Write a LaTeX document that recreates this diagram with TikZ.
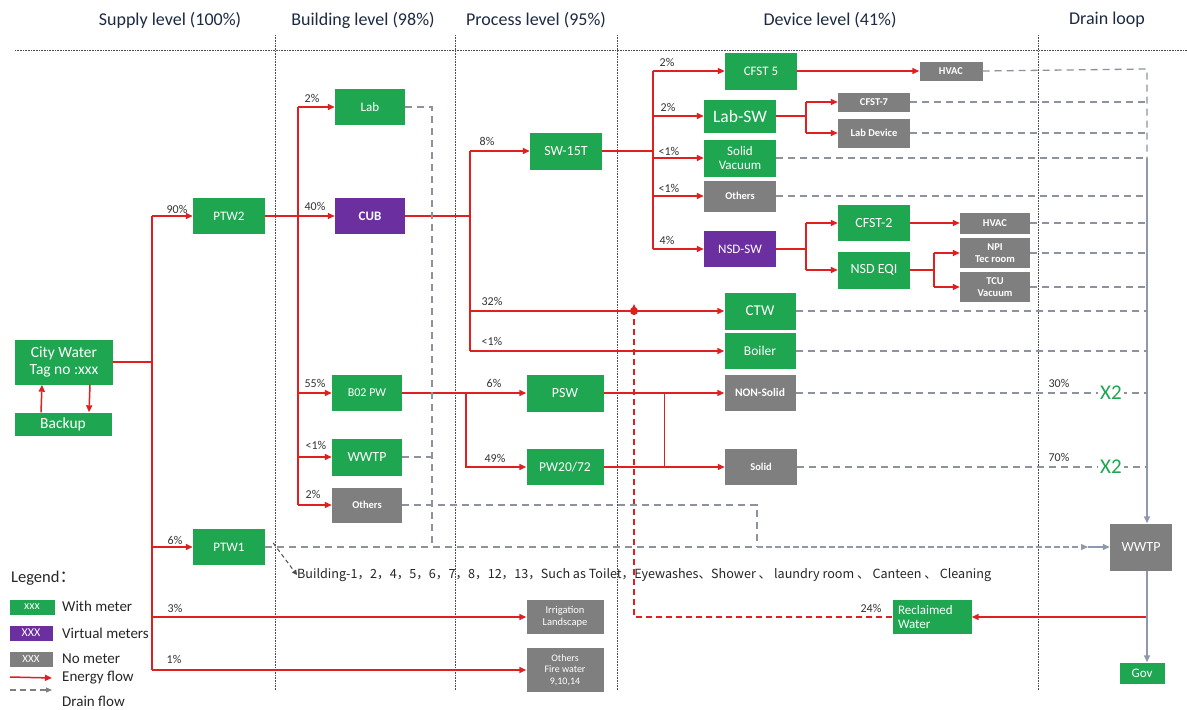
\documentclass[tikz,border=0pt]{standalone}
\usepackage{fontspec}
\setmainfont{Carlito}
\newfontfamily\cjk{Noto Sans CJK SC}
\usetikzlibrary{arrows.meta}
\definecolor{gr}{HTML}{1EA650}
\definecolor{pu}{HTML}{6B2FA0}
\definecolor{gy}{HTML}{7F7F7F}
\definecolor{rd}{HTML}{E02020}
\definecolor{dr}{HTML}{8E99AE}
\definecolor{dg}{HTML}{8C929E}
\definecolor{hd}{HTML}{1C2A45}
\begin{document}
\begin{tikzpicture}[x=1pt,y=-1pt,
 box/.style={draw=none,inner sep=1pt,align=center,text=white,font=\fontsize{13}{14}\selectfont},
 gbox/.style={box,fill=gr},
 pbox/.style={box,fill=pu},
 ybox/.style={box,fill=gy},
 sm/.style={font=\fontsize{10.5}{12}\selectfont\bfseries},
 sz/.style 2 args={minimum width=#1pt,minimum height=#2pt},
 flow/.style={draw=rd,line width=1.5pt},
 fa/.style={flow,-{Triangle[length=7pt,width=6pt]}},
 drain/.style={draw=dg,line width=1.3pt,dash pattern=on 7pt off 5pt},
 dsolid/.style={draw=dr,line width=1.5pt},
 pct/.style={font=\fontsize{12}{13}\selectfont,text=black!80,inner sep=0pt},
 sep/.style={draw=black!70,densely dotted,line width=0.6pt},
 hdr/.style={font=\fontsize{18}{20}\selectfont,text=hd},
 lg/.style={font=\fontsize{15}{17}\selectfont,text=black!85,anchor=west,inner sep=0pt}]
\useasboundingbox[fill=white] (0,0) rectangle (1187,710);

% headers and separators
\node[hdr] (h1) at (170,20) {Supply level (100\%)};
\node[hdr] (h2) at (363,20) {Building level (98\%)};
\node[hdr] (h3) at (536,20) {Process level (95\%)};
\node[hdr] (h4) at (830,20) {Device level (41\%)};
\node[hdr] (h5) at (1107,20) {Drain loop};
\draw[sep] (15,50) -- (1187,50);
\draw[sep] (275,35) -- (275,690);
\draw[sep] (455,35) -- (455,690);
\draw[sep] (617,35) -- (617,690);
\draw[sep] (1038,35) -- (1038,690);

% supply level
\node[gbox,sz={98}{45},font=\fontsize{15.5}{17}\selectfont] (city) at (64,362) {City Water\\Tag no :xxx};
\node[gbox,sz={97}{23},font=\fontsize{15.5}{17}\selectfont] (backup) at (63,424) {Backup};
\node[gbox,sz={72}{36}] (ptw2) at (229,216) {PTW2};
\node[gbox,sz={72}{36}] (ptw1) at (229,547) {PTW1};
\node[ybox,sz={77}{34},font=\fontsize{10.5}{12}\selectfont] (irr) at (565,617) {Irrigation\\Landscape};
\node[ybox,sz={77}{44},font=\fontsize{10}{11.5}\selectfont] (fire) at (565,670) {Others\\Fire water\\9,10,14};

% building level
\node[gbox,sz={70}{36}] (lab) at (370,107) {Lab};
\node[pbox,sz={70}{36},font=\fontsize{13}{14}\selectfont\bfseries] (cub) at (370,216) {CUB};
\node[gbox,sz={70}{36},font=\fontsize{12}{13}\selectfont] (b02) at (367,393) {B02 PW};
\node[gbox,sz={70}{37},font=\fontsize{14}{15}\selectfont] (wwtpa) at (367,457) {WWTP};
\node[ybox,sz={70}{35},sm] (otha) at (367,505) {Others};

% process level
\node[gbox,sz={72}{37},font=\fontsize{14}{15}\selectfont] (sw) at (566,151) {SW-15T};
\node[gbox,sz={77}{37},font=\fontsize{14}{15}\selectfont] (psw) at (565,393) {PSW};
\node[gbox,sz={77}{36},font=\fontsize{13.5}{15}\selectfont] (pw) at (565,467) {PW20/72};

% device level
\node[gbox,sz={72}{37}] (cfst5) at (761,71) {CFST 5};
\node[gbox,sz={72}{33},font=\fontsize{17.5}{19}\selectfont] (labsw) at (740,116) {Lab-SW};
\node[gbox,sz={72}{37},font=\fontsize{13}{14}\selectfont] (svac) at (740,158) {Solid\\Vacuum};
\node[ybox,sz={72}{31},sm] (othb) at (740,196) {Others};
\node[pbox,sz={72}{36}] (nsdsw) at (740,249) {NSD-SW};
\node[ybox,sz={63}{19},sm] (hvaca) at (951,71) {HVAC};
\node[ybox,sz={72}{19},sm] (cfst7) at (874,102) {CFST-7};
\node[ybox,sz={72}{29},sm] (labdev) at (874,133) {Lab Device};
\node[gbox,sz={72}{36},font=\fontsize{14}{15}\selectfont] (cfst2) at (874,223) {CFST-2};
\node[gbox,sz={72}{37},font=\fontsize{14}{15}\selectfont] (nsdeqi) at (874,270) {NSD EQI};
\node[ybox,sz={70}{21},sm] (hvacb) at (995,223) {HVAC};
\node[ybox,sz={70}{30},sm] (npi) at (995,253) {NPI\\Tec room};
\node[ybox,sz={70}{30},sm] (tcu) at (995,287) {TCU\\Vacuum};
\node[gbox,sz={71}{37},font=\fontsize{15}{16}\selectfont] (ctw) at (760,311) {CTW};
\node[gbox,sz={71}{36},font=\fontsize{13.5}{15}\selectfont] (boiler) at (760,351) {Boiler};
\node[ybox,sz={71}{36},font=\fontsize{11.5}{13}\selectfont\bfseries] (nons) at (760,393) {NON-Solid};
\node[ybox,sz={72}{36},sm] (solid) at (761,467) {Solid};
\node[gbox,sz={79}{34},align=left,text width=68pt,font=\fontsize{13}{14}\selectfont] (recl) at (932,617) {Reclaimed\\Water};

% drain loop
\node[ybox,sz={62}{47},font=\fontsize{14}{15}\selectfont] (wwtpb) at (1141,547) {WWTP};
\node[gbox,sz={45}{21}] (gov) at (1142,673) {Gov};

% ---------- energy flows ----------
\draw[fa] ([xshift=-22pt]backup.north) -- ([xshift=-22pt]city.south);
\draw[fa] ([xshift=26pt]city.south) -- ([xshift=26pt]backup.north);

\coordinate (j1) at (152,362);
\draw[flow] (city.east) -- (j1);
\draw[flow] (ptw2.west -| j1) -- (fire.west -| j1);
\draw[fa] (ptw2.west -| j1) -- (ptw2.west);
\draw[fa] (ptw1.west -| j1) -- (ptw1.west);
\draw[fa] (irr.west -| j1) -- (irr.west);
\draw[fa] (fire.west -| j1) -- (fire.west);
\node[pct] (p90) at (177,209) {90\%};
\node[pct] (p6a) at (175,540) {6\%};
\node[pct] (p3) at (175,608) {3\%};
\node[pct] (p1) at (174,659) {1\%};

\coordinate (j2) at (298,216);
\draw[flow] (ptw2.east) -- (j2);
\draw[flow] (lab.west -| j2) -- (otha.west -| j2);
\draw[fa] (lab.west -| j2) -- (lab.west);
\draw[fa] (cub.west -| j2) -- (cub.west);
\draw[fa] (b02.west -| j2) -- (b02.west);
\draw[fa] (wwtpa.west -| j2) -- (wwtpa.west);
\draw[fa] (otha.west -| j2) -- (otha.west);
\node[pct] (p2a) at (312,98) {2\%};
\node[pct] (p40) at (315,206) {40\%};
\node[pct] (p55) at (315,383) {55\%};
\node[pct] (p1a) at (316,445) {<1\%};
\node[pct] (p2b) at (313,494) {2\%};

\coordinate (j3) at (470,216);
\draw[flow] (cub.east) -- (j3);
\draw[flow] (sw.west -| j3) -- (boiler.west -| j3);
\draw[fa] (sw.west -| j3) -- (sw.west);
\draw[fa] (ctw.west -| j3) -- (ctw.west);
\draw[fa] (boiler.west -| j3) -- (boiler.west);
\node[pct] (p8) at (487,141) {8\%};
\node[pct] (p32) at (492,301) {32\%};
\node[pct] (p1b) at (492,341) {<1\%};

\coordinate (j4) at (653,151);
\draw[flow] (sw.east) -- (j4);
\draw[flow] (cfst5.west -| j4) -- (nsdsw.west -| j4);
\draw[fa] (cfst5.west -| j4) -- (cfst5.west);
\draw[fa] (labsw.west -| j4) -- (labsw.west);
\draw[fa] (svac.west -| j4) -- (svac.west);
\draw[fa] (othb.west -| j4) -- (othb.west);
\draw[fa] (nsdsw.west -| j4) -- (nsdsw.west);
\node[pct] (p2c) at (667,62) {2\%};
\node[pct] (p2d) at (668,107) {2\%};
\node[pct] (p1c) at (669,151) {<1\%};
\node[pct] (p1d) at (669,188) {<1\%};
\node[pct] (p4) at (667,240) {4\%};

\draw[fa] (cfst5.east) -- (hvaca.west);
\coordinate (j5) at (806,116);
\draw[flow] (labsw.east) -- (j5);
\draw[flow] (cfst7.west -| j5) -- (labdev.west -| j5);
\draw[fa] (cfst7.west -| j5) -- (cfst7.west);
\draw[fa] (labdev.west -| j5) -- (labdev.west);
\coordinate (j6) at (806,249);
\draw[flow] (nsdsw.east) -- (j6);
\draw[flow] (cfst2.west -| j6) -- (nsdeqi.west -| j6);
\draw[fa] (cfst2.west -| j6) -- (cfst2.west);
\draw[fa] (nsdeqi.west -| j6) -- (nsdeqi.west);
\draw[fa] (cfst2.east) -- (hvacb.west);
\coordinate (j7) at (934,270);
\draw[flow] (nsdeqi.east) -- (j7);
\draw[flow] (npi.west -| j7) -- (tcu.west -| j7);
\draw[fa] (npi.west -| j7) -- (npi.west);
\draw[fa] (tcu.west -| j7) -- (tcu.west);

\coordinate (j8) at (466,393);
\draw[fa] (b02.east) -- (psw.west);
\draw[fa] (j8) |- (pw.west);
\node[pct] (p6b) at (494,383) {6\%};
\node[pct] (p49) at (495,458) {49\%};
\draw[fa] (psw.east) -- (nons.west);
\draw[fa] (pw.east) -- (solid.west);
\draw[draw=rd,line width=1pt] (psw.east -| 664,0) -- (pw.east -| 664,0);

% reclaimed water loop
\coordinate (dot) at (634,311);
\coordinate (jr) at (1147,617);
\draw[fa] (jr) -- (recl.east);
\draw[draw=rd,line width=1.5pt,dash pattern=on 6pt off 4pt,-{Triangle[length=7pt,width=6pt]}] (recl.west) -| ([yshift=7pt]dot);
\fill[rd] (dot) circle (4pt);
\node[pct] (p24) at (871,608) {24\%};

% ---------- drain flows ----------
\coordinate (dc) at (1147,69);
\coordinate (ds) at (1147,158);
\draw[drain] (hvaca.east) -- (dc) -- (ds);
\draw[dsolid,-{Triangle[length=7pt,width=6pt]}] (ds) -- (wwtpb.north -| dc);
\draw[dsolid,-{Triangle[length=7pt,width=6pt]}] (wwtpb.south -| dc) -- (gov.north -| dc);
\draw[drain] (cfst7.east) -- (cfst7.east -| dc);
\draw[drain] (labdev.east) -- (labdev.east -| dc);
\draw[drain] (svac.east) -- (svac.east -| dc);
\draw[drain] (othb.east) -- (othb.east -| dc);
\draw[drain] (hvacb.east) -- (hvacb.east -| dc);
\draw[drain] (npi.east) -- (npi.east -| dc);
\draw[drain] (tcu.east) -- (tcu.east -| dc);
\draw[drain] (ctw.east) -- (ctw.east -| dc);
\draw[drain] (boiler.east) -- (boiler.east -| dc);
\draw[drain] (nons.east) -- (nons.east -| dc);
\draw[drain] (solid.east) -- (solid.east -| dc);
\node[font=\fontsize{21}{22}\selectfont,text=gr,fill=white,inner sep=2pt] (x2a) at (1111,393) {X2};
\node[font=\fontsize{21}{22}\selectfont,text=gr,fill=white,inner sep=2pt] (x2b) at (1111,467) {X2};
\node[pct] (p30) at (1059,383) {30\%};
\node[pct] (p70) at (1059,457) {70\%};

\coordinate (dl) at (432,547);
\coordinate (do) at (757,547);
\coordinate (dm) at (1088,547);
\draw[drain] (lab.east) -| (dl);
\draw[drain] (wwtpa.east) -- (wwtpa.east -| dl);
\draw[drain] (otha.east) -| (do);
\draw[drain] (ptw1.east) -- (do);
\draw[draw=dr,line width=1.3pt,dash pattern=on 6pt off 3pt,-{Triangle[length=7pt,width=6pt]}] (do) -- (dm);
\draw[draw=dr,line width=1.3pt,-{Triangle[length=7pt,width=6pt]}] (dm) -- (wwtpb.west);

\node[anchor=west,inner sep=0pt,font=\cjk\fontsize{12.6}{14}\selectfont,text=black!85] (bld) at (297,575)
 {Building-1，2，4，5，6，7，8，12，13，Such as Toilet，Eyewashes、Shower 、 laundry room 、 Canteen 、 Cleaning};
\draw[draw=black!70,line width=1pt,dash pattern=on 4pt off 3pt,-{Triangle[length=5pt,width=5pt]}] ([xshift=8pt,yshift=4pt]ptw1.east) -- (bld.west);

% ---------- legend ----------
\node[lg,font=\fontsize{16.5}{18}\selectfont] (lgt) at (11,578) {Legend{\cjk ：}};
\node[gbox,sz={45}{15},font=\fontsize{12}{13}\selectfont] (lg1) at (32,607) {xxx};
\node[pbox,sz={43}{15},font=\fontsize{12}{13}\selectfont] (lg2) at (31,633) {XXX};
\node[ybox,sz={43}{15},font=\fontsize{11}{12}\selectfont] (lg3) at (31,659) {XXX};
\node[lg] (lt1) at (62,606) {With meter};
\node[lg] (lt2) at (62,633) {Virtual meters};
\node[lg] (lt3) at (62,659) {No meter};
\node[lg] (lt4) at (62,678) {Energy flow};
\node[lg] (lt5) at (62,701) {Drain flow};
\coordinate (la) at (10,677);
\draw[fa] (la) -- (lt4.west -| 52,0);
\coordinate (lb) at (10,690);
\draw[draw=gy,line width=1.2pt,dash pattern=on 6pt off 4pt,-{Triangle[length=6pt,width=5pt]}] (lb) -- (52,690);
\end{tikzpicture}
\end{document}
